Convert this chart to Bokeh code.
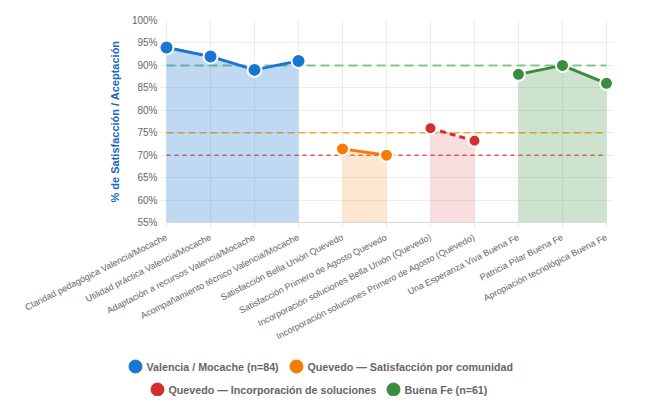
from bokeh.plotting import figure
from bokeh.layouts import column
from bokeh.models import (Range1d, FixedTicker, PrintfTickFormatter,
                          ColumnDataSource)
from bokeh.core.properties import value
from bokeh.embed import file_html
from bokeh.resources import INLINE

categories = [
    "Claridad pedagógica Valencia/Mocache",
    "Utilidad práctica Valencia/Mocache",
    "Adaptación a recursos Valencia/Mocache",
    "Acompañamiento técnico Valencia/Mocache",
    "Satisfacción Bella Unión Quevedo",
    "Satisfacción Primero de Agosto Quevedo",
    "Incorporación soluciones Bella Unión (Quevedo)",
    "Incorporación soluciones Primero de Agosto (Quevedo)",
    "Una Esperanza Viva Buena Fe",
    "Patricia Pilar Buena Fe",
    "Apropiación tecnológica Buena Fe",
]

valencia_cats = categories[0:4]
valencia_vals = [94, 92, 89, 91]
quevedo_sat_cats = categories[4:6]
quevedo_sat_vals = [71.4, 70]
quevedo_inc_cats = categories[6:8]
quevedo_inc_vals = [76, 73.2]
buenafe_cats = categories[8:11]
buenafe_vals = [88, 90, 86]

series_names = ["Valencia / Mocache (n=84)",
                "Quevedo — Satisfacción por comunidad",
                "Quevedo — Incorporación de soluciones",
                "Buena Fe (n=61)"]

thresholds = [90, 75, 70]
y_ticks = [55, 60, 65, 70, 75, 80, 85, 90, 95, 100]

# styles / layout
colors = ["#1976d2", "#f57c00", "#d32f2f", "#388e3c"]
fill_alphas = [0.28, 0.18, 0.16, 0.25]
line_dashes = ["solid", "solid", "6 4", "solid"]
marker_sizes = [14, 13, 12, 13]
thr_colors = ["#81c784", "#ffa726", "#ef5350"]
thr_dashes = ["9 5", "7 4", "4 4"]
thr_widths = [2, 1.5, 1.5]
legend_px = [135, 296, 157, 393]   # legend marker centres (screen px)
legend_py = [18, 18, 41, 41]

FONT = "Liberation Sans"
Y0 = 55
PAD = 0.16
last = len(categories) - 1
FRAME_L, FRAME_R = 159, 613
W = 630

p = figure(width=W, height=348, output_backend="svg", toolbar_location=None,
           x_range=Range1d(-PAD, last + PAD), y_range=Range1d(55, 100),
           min_border_left=FRAME_L, min_border_right=W - FRAME_R, min_border_top=20,
           min_border_bottom=125)
p.outline_line_color = None
p.background_fill_color = "white"
p.border_fill_color = "white"

p.xgrid.grid_line_color = "#ececec"
p.ygrid.grid_line_color = "#ececec"

p.xaxis.ticker = FixedTicker(ticks=list(range(len(categories))))
p.xaxis.major_label_overrides = {i: c for i, c in enumerate(categories)}
p.xaxis.major_label_orientation = 0.47
p.xaxis.major_label_text_font = FONT
p.xaxis.major_label_text_font_size = "9px"
p.xaxis.major_label_text_color = "#666666"
p.xaxis.major_label_standoff = 10
p.xaxis.bounds = (0, last)
p.xaxis.axis_line_color = "#d9d9d9"
p.xaxis.major_tick_line_color = "#e6e6e6"
p.xaxis.major_tick_out = 4
p.xaxis.major_tick_in = 0
p.xaxis.minor_tick_line_color = None

p.yaxis.ticker = FixedTicker(ticks=y_ticks)
p.yaxis.formatter = PrintfTickFormatter(format="%d%%")
p.yaxis.major_label_text_font = FONT
p.yaxis.major_label_text_font_size = "10px"
p.yaxis.major_label_text_color = "#666666"
p.yaxis.major_label_standoff = 2
p.yaxis.axis_line_color = None
p.yaxis.major_tick_line_color = None
p.yaxis.major_tick_out = 0
p.yaxis.major_tick_in = 0
p.yaxis.minor_tick_line_color = None
p.yaxis.axis_label = "% de Satisfacción / Aceptación"
p.yaxis.axis_label_text_font = FONT
p.yaxis.axis_label_text_font_style = "bold"
p.yaxis.axis_label_text_font_size = "11px"
p.yaxis.axis_label_text_color = "#1565c0"
p.yaxis.axis_label_standoff = 8

for t, c, d, w in zip(thresholds, thr_colors, thr_dashes, thr_widths):
    p.segment(x0=0, y0=t, x1=last, y1=t, line_color=c, line_dash=d, line_width=w)

all_cats = [valencia_cats, quevedo_sat_cats, quevedo_inc_cats, buenafe_cats]
all_vals = [valencia_vals, quevedo_sat_vals, quevedo_inc_vals, buenafe_vals]

for cats, vals, col, fa, dash, ms in zip(all_cats, all_vals, colors, fill_alphas,
                                         line_dashes, marker_sizes):
    src = ColumnDataSource(dict(x=[categories.index(c) for c in cats], y=vals,
                                y0=[Y0] * len(vals)))
    p.varea(x="x", y1="y0", y2="y", source=src, fill_color=col, fill_alpha=fa)
    p.line(x="x", y="y", source=src, line_color=col, line_width=3, line_dash=dash)
    p.scatter(x="x", y="y", source=src, size=ms, fill_color=col,
              line_color="white", line_width=2)

# legend strip (full-width frame, not aligned with the main frame)
LH = 48
lg = figure(width=W, height=LH, output_backend="svg", toolbar_location=None,
            x_range=Range1d(0, W), y_range=Range1d(LH, 0),
            x_axis_type=None, y_axis_type=None,
            min_border_left=0, min_border_right=0,
            min_border_top=0, min_border_bottom=0)
lg.frame_align = False
lg.outline_line_color = None
lg.xgrid.visible = False
lg.ygrid.visible = False
lg.background_fill_color = "white"
lg.border_fill_color = "white"
leg_src = ColumnDataSource(dict(x=legend_px, y=legend_py, c=colors,
                                tx=[x + 11 for x in legend_px], t=series_names))
lg.scatter(x="x", y="y", source=leg_src, size=13, fill_color="c", line_color="c")
lg.text(x="tx", y="y", text="t", source=leg_src, text_font=value(FONT),
        text_font_size="10.7px", text_font_style="bold", text_color="#666666",
        text_baseline="middle", text_align="left")

layout = column(p, lg, spacing=0)
open("out.html", "w").write(file_html(layout, INLINE))
